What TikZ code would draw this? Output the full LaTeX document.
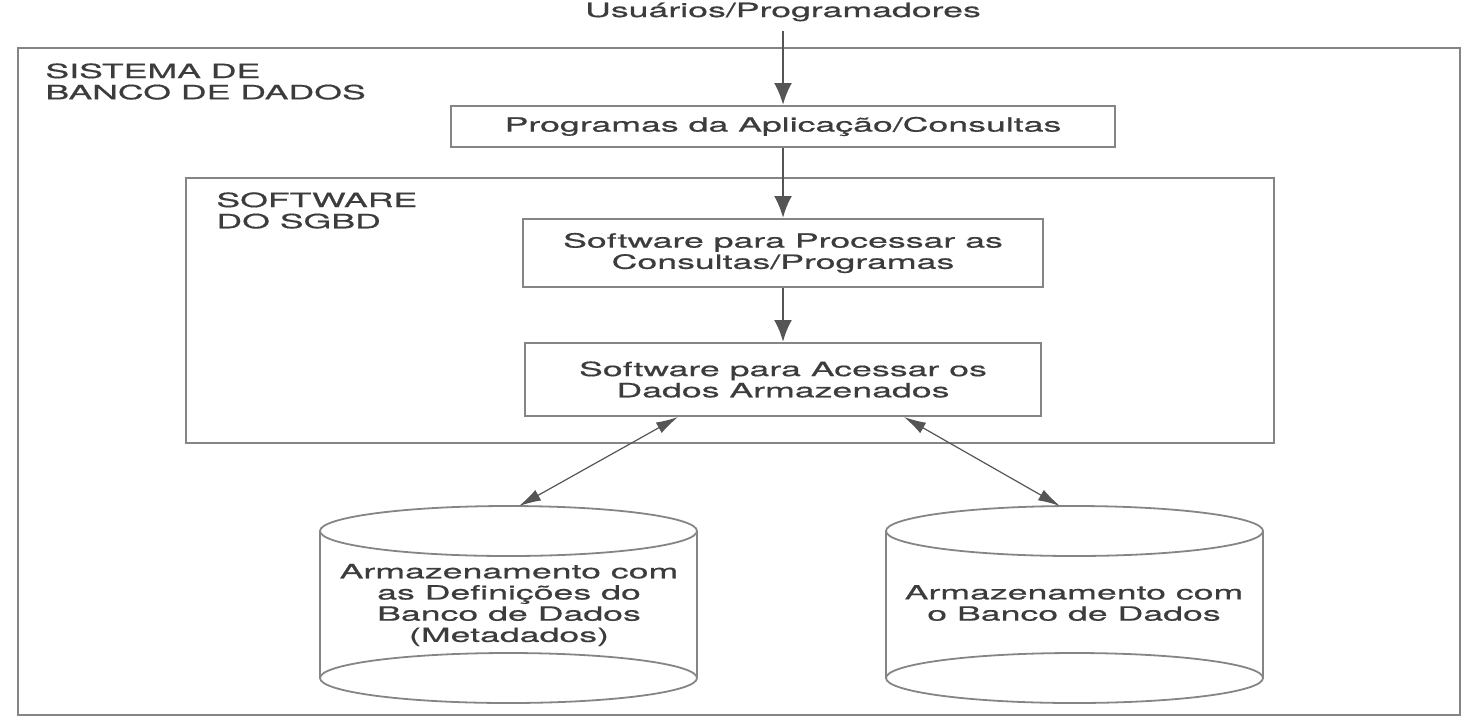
\documentclass[tikz,border=0pt]{standalone}
\usepackage{fontspec}
\setmainfont[FakeStretch=1.82,FakeBold=0.6]{TeX Gyre Heros}
\usetikzlibrary{arrows.meta}
\definecolor{ln}{HTML}{858585}
\definecolor{arr}{HTML}{555555}
\definecolor{txt}{HTML}{3C3C3C}
\begin{document}
\begin{tikzpicture}[x=0.5pt,y=-0.5pt,
  every node/.style={text=txt, font=\fontsize{9.8}{10.6}\selectfont, inner sep=0pt},
  frame/.style={draw=ln, line width=1pt, inner sep=0pt},
  box/.style={draw=ln, line width=1pt, inner sep=0pt, align=center},
  varrow/.style={draw=arr, line width=1.3pt, -{Latex[length=11pt,width=9pt]}},
  darrow/.style={draw=arr, line width=0.6pt, {Latex[length=11pt,width=6pt]}-{Latex[length=11pt,width=6pt]}},
  cyl/.style={draw=ln, line width=0.9pt}
]
\useasboundingbox (0,0) rectangle (1476,724);
% frames
\node[frame, minimum width=721pt, minimum height=333.5pt] (outer) at (739,381.5) {};
\node[frame, minimum width=544pt, minimum height=132.5pt] (sgbd) at (730,310.5) {};
\node[anchor=west, align=left] (sislbl) at (45,81.5) {SISTEMA DE\\BANCO DE DADOS};
\node[anchor=west, align=left] (swlbl) at (216,210.5) {SOFTWARE\\DO SGBD};
% title and boxes
\node (title) at (783,12) {Usuários/Programadores};
\node[box, minimum width=332pt, minimum height=20.5pt] (b1) at (783,126.5) {Programas da Aplicação/Consultas};
\node[box, minimum width=260pt, minimum height=34pt] (b2) at (783,253) {Software para Processar as\\Consultas/Programas};
\node[box, minimum width=258pt, minimum height=36.5pt] (b3) at (783,379.5) {Software para Acessar os\\Dados Armazenados};
% vertical arrows
\draw[varrow, shorten <=4.5pt] (title) -- (b1);
\draw[varrow] (b1) -- (b2);
\draw[varrow] (b2) -- (b3);
% cylinders
\draw[cyl] (508.5,531) ellipse [x radius=188.5, y radius=25];
\draw[cyl] (508.5,678) ellipse [x radius=188.5, y radius=25];
\draw[cyl] (320,531) -- (320,678) (697,531) -- (697,678);
\draw[cyl] (1074.5,531) ellipse [x radius=188.5, y radius=25];
\draw[cyl] (1074.5,678) ellipse [x radius=188.5, y radius=25];
\draw[cyl] (886,531) -- (886,678) (1263,531) -- (1263,678);
\node[align=center] (db1) at (509,605) {Armazenamento com\\as Definições do\\Banco de Dados\\(Metadados)};
\node[align=center] (db2) at (1074,603) {Armazenamento com\\o Banco de Dados};
% diagonal arrows
\coordinate (a1) at (678,417);
\coordinate (c1) at (519,506);
\coordinate (a2) at (904,417);
\coordinate (c2) at (1060,506);
\draw[darrow] (a1) -- (c1);
\draw[darrow] (a2) -- (c2);
\end{tikzpicture}
\end{document}
